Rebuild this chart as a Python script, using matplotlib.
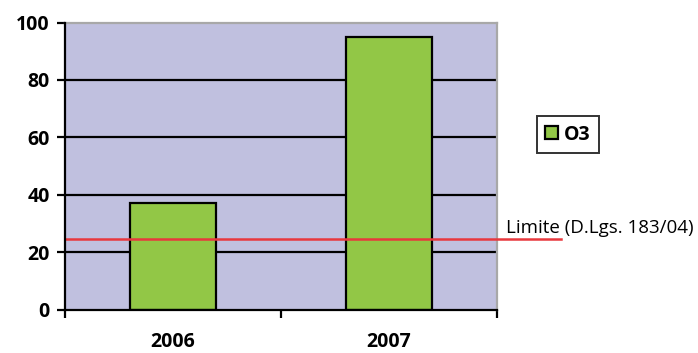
import matplotlib.pyplot as plt
import numpy as np

# O3 data per year and the legal limit
years = ['2006', '2007']
o3 = [37, 95]
limite = 24.5
limite_label = 'Limite (D.Lgs. 183/04)'

plt.rcParams['font.family'] = ['Open Sans', 'DejaVu Sans']

fig = plt.figure(figsize=(6.98, 3.53), dpi=100)
ax = fig.add_axes([65/698, 1 - 309.5/353, 432/698, 287/353])
ax.set_facecolor('#C0C0DF')

x = np.arange(len(years))
ax.set_xlim(-0.5, len(years) - 0.5)
ax.set_ylim(0, 100)

ax.set_yticks([0, 20, 40, 60, 80, 100])
for v in [20, 40, 60, 80]:
    ax.axhline(v, color='black', lw=1.6, zorder=1)

ax.bar(x, o3, width=0.4, color='#92C746', edgecolor='black', linewidth=1.6,
       zorder=2, label='O3')

# limit line runs past the plot area up to the text
ax.axhline(limite, xmin=0, xmax=(561 - 65) / 432, color='#E8383D', lw=1.8,
           clip_on=False, zorder=3)
ax.text((506 - 65) / 432, limite + 0.6, limite_label, transform=ax.get_yaxis_transform(),
        fontsize=13.5, va='bottom', ha='left', clip_on=False)

# x ticks sit between categories, labels under the bars
ax.set_xticks([-0.5, 0.5, 1.5])
ax.set_xticklabels([])
ax.set_xticks(x, minor=True)
ax.set_xticklabels(years, minor=True, fontsize=14, fontweight='bold')
ax.tick_params(axis='x', which='minor', length=0, pad=16)
ax.tick_params(axis='x', which='major', direction='out', length=6, width=1.6)
ax.tick_params(axis='y', direction='out', length=6, width=1.6, labelsize=14, pad=5)
for lab in ax.get_yticklabels():
    lab.set_fontweight('bold')

ax.spines['left'].set_linewidth(1.6)
ax.spines['bottom'].set_linewidth(1.6)
ax.spines['left'].set_zorder(4)
ax.spines['bottom'].set_zorder(4)
for s in ['top', 'right']:
    ax.spines[s].set_color('#A8A8A8')
    ax.spines[s].set_linewidth(1.6)

leg = ax.legend(loc='center left', bbox_to_anchor=((527 - 65) / 432, (309.5 - 134.5) / 287),
                frameon=True, fancybox=False, edgecolor='black', handlelength=0.65,
                handleheight=0.65, handletextpad=0.3, borderpad=0.45,
                prop={'weight': 'bold', 'size': 14})
leg.get_frame().set_linewidth(1.4)

fig.savefig('out.png', dpi=100)
